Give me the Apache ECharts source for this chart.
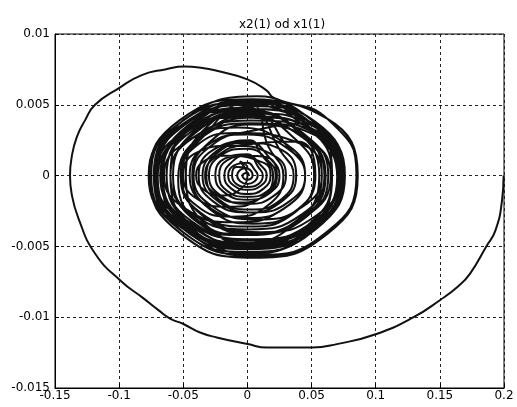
<!DOCTYPE html>
<html>
<head>
<meta charset="utf-8">
<script src="https://cdn.jsdelivr.net/npm/echarts@6/dist/echarts.min.js"></script>
<style>
  html, body { margin: 0; padding: 0; background: #fff; }
  #main { width: 517px; height: 407px; }
</style>
</head>
<body>
<div id="main"></div>
<script>
// phase plot x2(1) against x1(1)
var chartTitle = 'x2(1) od x1(1)';

// transient: big first swing from (0.2, 0) clockwise into the attractor
var outerSpiral = [
    [0.1997, 0.0], [0.1984, -0.0018], [0.1932, -0.0039], [0.1862, -0.0050],
    [0.1737, -0.0069], [0.1646, -0.0078], [0.1500, -0.0088], [0.1295, -0.0100],
    [0.1000, -0.0112], [0.0697, -0.0119], [0.0505, -0.01214], [0.0151, -0.01214],
    [0.0003, -0.0119], [-0.0239, -0.01143], [-0.0369, -0.01108], [-0.0499, -0.01048],
    [-0.0603, -0.0101], [-0.0694, -0.0095], [-0.0820, -0.0086], [-0.0980, -0.0075],
    [-0.1188, -0.0055], [-0.1318, -0.0030], [-0.1370, -0.0013], [-0.1383, 0.0],
    [-0.1370, 0.0013], [-0.1331, 0.0027], [-0.1266, 0.0039], [-0.1188, 0.0050],
    [-0.0998, 0.0062], [-0.0824, 0.0071], [-0.0642, 0.0075], [-0.0490, 0.0077],
    [-0.0350, 0.0076], [-0.0239, 0.0074], [0.0, 0.0068], [0.0151, 0.0060],
    [0.0203, 0.0055]
];

// the tangle round the origin, loop by loop (top-right, right, ... top)
var attractorLoops = [
    [0.0625, 0.0040], [0.086, 0.0], [0.0625, -0.0041], [0.005, -0.0058], [-0.052, -0.0041], [-0.076, 0.0], [-0.053, 0.0039], [0.004, 0.0054],
    [0.0545, 0.0036], [0.076, 0.0], [0.0545, -0.0036], [0.002, -0.0051], [-0.050, -0.0036], [-0.072, 0.0001], [-0.050, 0.0035], [0.0, 0.0050],
    [0.050, 0.0031], [0.070, -0.0002], [0.050, -0.0035], [0.0, -0.0048], [-0.050, -0.0035], [-0.070, -0.0002], [-0.049, 0.0030], [0.004, 0.0047],
    [0.053, 0.0035], [0.073, 0.0], [0.053, -0.0035], [0.005, -0.0049], [-0.043, -0.0035], [-0.063, 0.0], [-0.043, 0.0034], [0.0, 0.0046],
    [0.042, 0.0030], [0.061, 0.0], [0.042, -0.0030], [-0.005, -0.0042], [-0.052, -0.0030], [-0.071, 0.0], [-0.051, 0.0030], [-0.004, 0.0041],
    [0.043, 0.0027], [0.060, 0.0], [0.043, -0.0027], [0.0, -0.0038], [-0.043, -0.0027], [-0.060, 0.0], [-0.042, 0.0027], [0.003, 0.0039],
    [0.055, 0.0029], [0.074, -0.0003], [0.055, -0.0035], [0.010, -0.0048], [-0.035, -0.0035], [-0.054, -0.0003], [-0.035, 0.0029], [0.008, 0.0043],
    [0.029, 0.0023], [0.045, 0.0], [0.029, -0.0023], [-0.010, -0.0033], [-0.049, -0.0023], [-0.065, 0.0], [-0.049, 0.0023], [-0.008, 0.0034],
    [0.032, 0.0021], [0.045, 0.0], [0.032, -0.0021], [0.0, -0.0030], [-0.032, -0.0021], [-0.045, 0.0], [-0.032, 0.0021], [0.0, 0.0029],
    [0.033, 0.0018], [0.045, 0.0], [0.033, -0.0018], [0.005, -0.0026], [-0.023, -0.0018], [-0.035, 0.0], [-0.023, 0.0018], [0.002, 0.0025],
    [0.010, 0.0016], [0.020, 0.0], [0.010, -0.0016], [-0.015, -0.0022], [-0.040, -0.0016], [-0.050, 0.0], [-0.040, 0.0016], [-0.012, 0.0021],
    [0.021, 0.0014], [0.030, 0.0], [0.021, -0.0014], [0.0, -0.0020], [-0.021, -0.0014], [-0.030, 0.0], [-0.021, 0.0014], [0.0, 0.0019],
    [0.0156, 0.0011], [0.022, 0.0], [0.0156, -0.0011], [0.0, -0.0015], [-0.0156, -0.0011], [-0.022, 0.0], [-0.0156, 0.0011], [0.0, 0.0014],
    [0.0107, 0.0007], [0.015, 0.0], [0.0107, -0.0007], [0.0, -0.0010], [-0.0107, -0.0007], [-0.015, 0.0], [-0.0107, 0.0007], [0.0, 0.0009],
    [0.0057, 0.0004], [0.008, 0.0], [0.0057, -0.0004], [0.0, -0.0006], [-0.0057, -0.0004], [-0.008, 0.0], [-0.0057, 0.0004], [0.0, 0.0006],
    [-0.006, 0.0010], [0.0, 0.0], [-0.006, -0.0010], [-0.020, -0.0014], [-0.034, -0.0010], [-0.040, 0.0], [-0.034, 0.0010], [-0.018, 0.0014],
    [0.0128, 0.0009], [0.018, 0.0], [0.0128, -0.0009], [0.0, -0.0013], [-0.0128, -0.0009], [-0.018, 0.0], [-0.0128, 0.0009], [-0.002, 0.0014],
    [0.015, 0.0013], [0.023, 0.0], [0.015, -0.0013], [-0.005, -0.0019], [-0.025, -0.0013], [-0.033, 0.0], [-0.025, 0.0013], [0.0, 0.0022],
    [0.039, 0.0024], [0.053, 0.0], [0.039, -0.0024], [0.005, -0.0034], [-0.029, -0.0024], [-0.043, 0.0], [-0.029, 0.0024], [0.002, 0.0036],
    [0.041, 0.0030], [0.058, 0.0], [0.041, -0.0030], [0.0, -0.0042], [-0.041, -0.0030], [-0.058, 0.0], [-0.041, 0.0030], [0.002, 0.0044],
    [0.053, 0.0034], [0.073, -0.0001], [0.053, -0.0036], [0.003, -0.0050], [-0.047, -0.0036], [-0.067, -0.0001], [-0.047, 0.0034], [0.001, 0.0051],
    [0.053, 0.0038], [0.075, 0.0], [0.053, -0.0038], [0.0, -0.0054], [-0.053, -0.0038], [-0.075, 0.0], [-0.053, 0.0037], [0.004, 0.0052],
    [0.055, 0.0033], [0.074, 0.0], [0.055, -0.0033], [0.008, -0.0046], [-0.039, -0.0033], [-0.058, 0.0], [-0.039, 0.0033], [0.0, 0.0045],
    [0.045, 0.0028], [0.065, 0.0], [0.045, -0.0029], [-0.004, -0.0041], [-0.053, -0.0029], [-0.073, 0.0], [-0.053, 0.0028], [-0.002, 0.0042],
    [0.055, 0.0031], [0.076, 0.0], [0.055, -0.0032], [0.004, -0.0045], [-0.047, -0.0032], [-0.068, 0.0], [-0.047, 0.0031], [0.0, 0.0043],
    [0.037, 0.0026], [0.052, 0.0], [0.037, -0.0026], [0.0, -0.0036], [-0.037, -0.0026], [-0.052, 0.0], [-0.037, 0.0026], [0.002, 0.0037],
    [0.054, 0.0028], [0.072, 0.0], [0.054, -0.0028], [0.010, -0.0040], [-0.034, -0.0028], [-0.052, 0.0], [-0.034, 0.0028], [0.006, 0.0041],
    [0.050, 0.0033], [0.070, 0.0], [0.050, -0.0034], [0.002, -0.0048], [-0.046, -0.0034], [-0.066, 0.0], [-0.046, 0.0033], [0.004, 0.0052],
    [0.0625, 0.0040], [0.085, 0.0], [0.062, -0.0040], [0.006, -0.0056], [-0.050, -0.0040], [-0.073, 0.0], [-0.050, 0.0039], [0.008, 0.0056],
    [0.052, 0.0031], [0.071, 0.0], [0.052, -0.0032], [0.004, -0.0045], [-0.044, -0.0032], [-0.063, 0.0], [-0.044, 0.0031], [0.003, 0.0044],
    [0.037, 0.0033], [0.056, 0.0], [0.037, -0.0034], [-0.008, -0.0048], [-0.053, -0.0034], [-0.072, 0.0], [-0.053, 0.0033], [-0.006, 0.0047],
    [0.055, 0.0035], [0.072, 0.0], [0.055, -0.0036], [0.012, -0.0051], [-0.031, -0.0036], [-0.048, 0.0], [-0.031, 0.0035], [0.010, 0.0049],
    [0.051, 0.0036], [0.072, 0.0], [0.051, -0.0037], [0.0, -0.0052], [-0.051, -0.0037], [-0.072, 0.0], [-0.051, 0.0036], [0.002, 0.0050],
    [0.016, 0.0021], [0.028, 0.0], [0.016, -0.0021], [-0.012, -0.0029], [-0.040, -0.0021], [-0.052, 0.0], [-0.040, 0.0021], [-0.010, 0.0030],
    [0.043, 0.0022], [0.058, 0.0], [0.043, -0.0022], [0.008, -0.0031], [-0.027, -0.0022], [-0.042, 0.0], [-0.027, 0.0022], [0.006, 0.0032],
    [0.048, 0.0037], [0.066, 0.0], [0.048, -0.0038], [0.003, -0.0055], [-0.042, -0.0038], [-0.060, 0.0], [-0.042, 0.0037], [0.003, 0.0052],
    [0.050, 0.0033], [0.071, 0.0], [0.050, -0.0034], [-0.003, -0.0048], [-0.056, -0.0034], [-0.077, 0.0], [-0.056, 0.0033], [-0.001, 0.0046],
    [0.046, 0.0028], [0.063, 0.0], [0.046, -0.0029], [0.006, -0.0041], [-0.034, -0.0029], [-0.051, 0.0], [-0.034, 0.0028], [0.004, 0.0052],
    [0.0625, 0.0040], [0.086, 0.0], [0.063, -0.0039], [0.008, -0.0057], [-0.047, -0.0039], [-0.070, 0.0], [-0.047, 0.0038], [0.006, 0.0053],
    [0.047, 0.0035], [0.066, 0.0], [0.047, -0.0035], [0.0, -0.0050], [-0.047, -0.0035], [-0.066, 0.0], [-0.047, 0.0035], [0.0, 0.0048],
    [0.026, 0.0017], [0.036, 0.0], [0.026, -0.0017], [0.002, -0.0024], [-0.022, -0.0017], [-0.032, 0.0], [-0.022, 0.0017], [0.0, 0.0023],
    [0.027, 0.0018], [0.038, 0.0], [0.027, -0.0018], [0.0, -0.0026], [-0.027, -0.0018], [-0.038, 0.0], [-0.027, 0.0018], [0.0, 0.0024],
    [0.0178, 0.0012], [0.025, 0.0], [0.0178, -0.0012], [0.0, -0.0017], [-0.0178, -0.0012], [-0.025, 0.0], [-0.0178, 0.0012], [0.0, 0.0015],
    [0.0085, 0.0006], [0.012, 0.0], [0.0085, -0.0006], [0.0, -0.0008], [-0.0085, -0.0006], [-0.012, 0.0], [-0.0085, 0.0006], [0.0, 0.0005],
    [0.004, 0.0], [0.0, -0.0003], [-0.004, 0.0], [0.0, 0.0002], [0.001, 0.0]
];

var chart = echarts.init(document.getElementById('main'));

var axisFont = {
    fontFamily: '"DejaVu Sans", sans-serif',
    fontSize: 12,
    color: '#000'
};

var option = {
    animation: false,
    backgroundColor: '#fff',
    title: {
        text: chartTitle,
        left: 234,
        top: 14,
        textStyle: {
            fontFamily: '"DejaVu Sans", sans-serif',
            fontSize: 12,
            fontWeight: 'normal',
            color: '#000'
        }
    },
    grid: {
        left: 55,
        right: 13,
        top: 34,
        bottom: 19,
        show: true,
        borderColor: '#000',
        borderWidth: 1
    },
    xAxis: {
        type: 'value',
        min: -0.15,
        max: 0.2,
        interval: 0.05,
        axisLine: { show: true, onZero: false, lineStyle: { color: '#000', width: 1 } },
        axisTick: { show: true, inside: true, length: 4, lineStyle: { color: '#000' } },
        axisLabel: Object.assign({ margin: 2 }, axisFont),
        splitLine: {
            show: true,
            lineStyle: { color: '#222', width: 1, type: [3, 3] }
        }
    },
    yAxis: {
        type: 'value',
        min: -0.015,
        max: 0.01,
        interval: 0.005,
        axisLine: { show: true, onZero: false, lineStyle: { color: '#000', width: 1 } },
        axisTick: { show: true, inside: true, length: 4, lineStyle: { color: '#000' } },
        axisLabel: Object.assign({ margin: 5 }, axisFont),
        splitLine: {
            show: true,
            lineStyle: { color: '#222', width: 1, type: [3, 3] }
        }
    },
    series: [{
        name: chartTitle,
        type: 'line',
        data: outerSpiral.concat(attractorLoops),
        showSymbol: false,
        smooth: 0.5,
        lineStyle: { color: '#111', width: 2 }
    }]
};

chart.setOption(option);
</script>
</body>
</html>
